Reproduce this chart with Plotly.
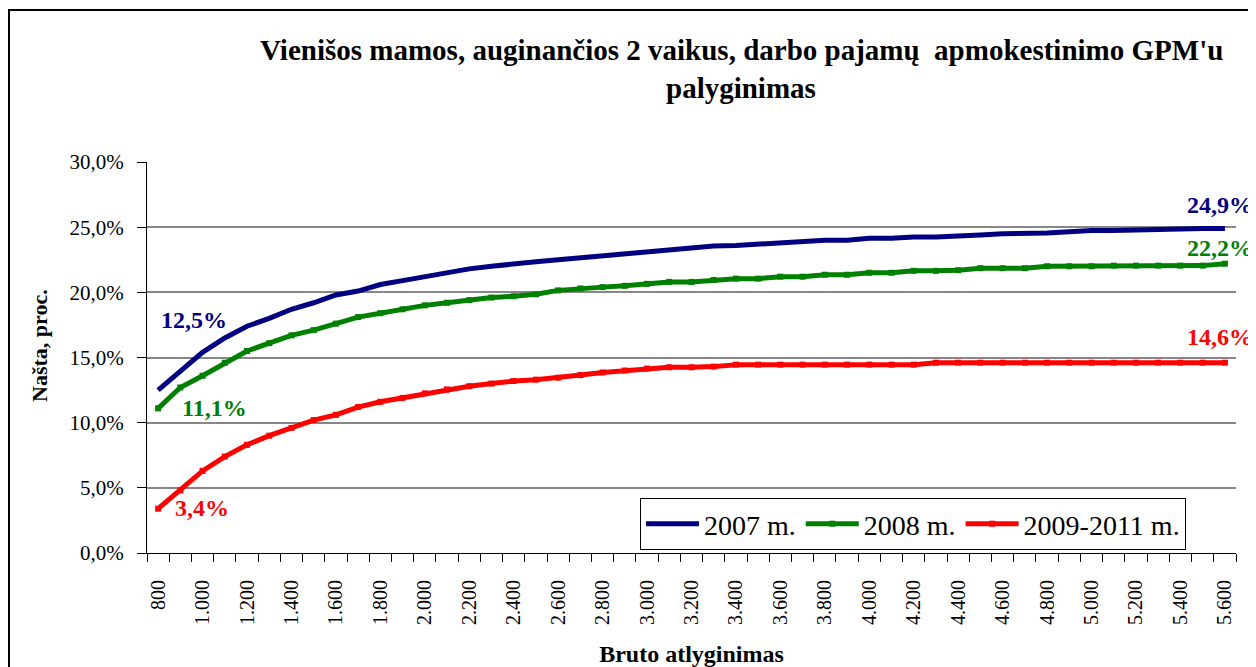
import plotly.graph_objects as go

# ---- data ----
salary = list(range(800, 5601, 100))
tax_2007 = [12.5, 14.0, 15.4, 16.5, 17.4, 18.0, 18.7, 19.2, 19.8, 20.1,
            20.6, 20.9, 21.2, 21.5, 21.8, 22.0, 22.2, 22.35, 22.5, 22.65,
            22.8, 23.0, 23.15, 23.3, 23.45, 23.55, 23.6, 23.7, 23.85, 23.9,
            24.0, 24.0, 24.15, 24.15, 24.25, 24.25, 24.3, 24.4, 24.5, 24.5,
            24.55, 24.65, 24.75, 24.75, 24.8, 24.8, 24.85, 24.9, 24.9]
tax_2008 = [11.1, 12.7, 13.6, 14.6, 15.5, 16.1, 16.7, 17.1, 17.6, 18.1,
            18.4, 18.7, 19.0, 19.2, 19.4, 19.6, 19.7, 19.85, 20.15, 20.3,
            20.4, 20.5, 20.65, 20.8, 20.8, 20.95, 21.05, 21.05, 21.2, 21.2,
            21.35, 21.35, 21.5, 21.5, 21.65, 21.65, 21.7, 21.85, 21.85, 21.85,
            22.0, 22.0, 22.0, 22.05, 22.05, 22.05, 22.05, 22.05, 22.2]
tax_2009 = [3.4, 4.8, 6.3, 7.4, 8.3, 9.0, 9.6, 10.2, 10.6, 11.2,
            11.6, 11.9, 12.25, 12.55, 12.8, 13.0, 13.2, 13.3, 13.45, 13.65,
            13.85, 14.0, 14.15, 14.25, 14.25, 14.3, 14.45, 14.45, 14.45, 14.45,
            14.45, 14.45, 14.45, 14.45, 14.45, 14.6, 14.6, 14.6, 14.6, 14.6,
            14.6, 14.6, 14.6, 14.6, 14.6, 14.6, 14.6, 14.6, 14.6]
series_names = ["2007 m.", "2008 m.", "2009-2011 m."]
x_tick_vals = list(range(800, 5601, 200))
x_tick_text = [f"{v:,}".replace(",", ".") for v in x_tick_vals]
y_tick_vals = [0, 5, 10, 15, 20, 25, 30]
y_tick_text = [f"{v:.1f}%".replace(".", ",") for v in y_tick_vals]
title_lines = ["Vienišos mamos, auginančios 2 vaikus, darbo pajamų  apmokestinimo GPM'u",
               "palyginimas"]
x_title = "Bruto atlyginimas"
y_title = "Našta, proc."

NAVY = "#000080"
GREEN = "#008000"
RED = "#FF0000"
FONT = "Liberation Serif"

# plot area in page pixels (page has an 8px body margin)
PL, PR, PT, PB = 147, 1236, 162, 553
PW, PH = PR - PL, PB - PT


def px_x(p):
    return (p - PL) / PW


def px_y(p):
    return (PB - p) / PH


fig = go.Figure()
fig.add_trace(go.Scatter(x=salary, y=tax_2007, name=series_names[0], mode="lines",
                         line=dict(color=NAVY, width=5)))
fig.add_trace(go.Scatter(x=salary, y=tax_2008, name=series_names[1], mode="lines+markers",
                         line=dict(color=GREEN, width=5),
                         marker=dict(symbol="square", size=6, color=GREEN)))
fig.add_trace(go.Scatter(x=salary, y=tax_2009, name=series_names[2], mode="lines+markers",
                         line=dict(color=RED, width=5),
                         marker=dict(symbol="square", size=6, color=RED)))

ann_font = dict(family=FONT, size=24)
annotations = [
    dict(x=px_x(159), y=px_y(320), text="<b>12,5%</b>", xanchor="left", font=dict(color=NAVY, **ann_font)),
    dict(x=px_x(180), y=px_y(408), text="<b>11,1%</b>", xanchor="left", font=dict(color=GREEN, **ann_font)),
    dict(x=px_x(173), y=px_y(508), text="<b>3,4%</b>", xanchor="left", font=dict(color=RED, **ann_font)),
    dict(x=px_x(1255), y=px_y(205), text="<b>24,9%</b>", xanchor="right", font=dict(color=NAVY, **ann_font)),
    dict(x=px_x(1255), y=px_y(248), text="<b>22,2%</b>", xanchor="right", font=dict(color=GREEN, **ann_font)),
    dict(x=px_x(1255), y=px_y(337), text="<b>14,6%</b>", xanchor="right", font=dict(color=RED, **ann_font)),
    dict(x=px_x(741), y=px_y(50), text="<b>" + title_lines[0] + "</b>", xanchor="center",
         font=dict(family=FONT, size=29, color="black")),
    dict(x=px_x(741), y=px_y(88), text="<b>" + title_lines[1] + "</b>", xanchor="center",
         font=dict(family=FONT, size=29, color="black")),
    dict(x=px_x(39), y=px_y(346), text="<b>" + y_title + "</b>", xanchor="center", textangle=-90,
         font=dict(family=FONT, size=22, color="black")),
]
for a in annotations:
    a["xref"] = "paper"
    a["yref"] = "paper"
    a["showarrow"] = False
    a["yanchor"] = "middle"

fig.update_layout(
    width=1248, height=659,
    margin=dict(l=139, r=20, t=154, b=114),
    paper_bgcolor="white", plot_bgcolor="white",
    font=dict(family=FONT, color="black"),
    showlegend=True,
    legend=dict(orientation="h", x=px_x(640), y=px_y(498), xanchor="left", yanchor="top",
                bordercolor="black", borderwidth=1, bgcolor="white",
                font=dict(family=FONT, size=28), itemwidth=53,
                tracegroupgap=0),
    annotations=annotations,
    shapes=[dict(type="rect", xref="paper", yref="paper",
                 x0=px_x(9), x1=px_x(1252),
                 y0=px_y(700), y1=px_y(10),
                 line=dict(color="black", width=2), layer="below")],
)

fig.update_xaxes(
    range=[750, 5650], tickmode="array", tickvals=x_tick_vals, ticktext=x_tick_text,
    tickangle=-90, ticks="", tickfont=dict(family=FONT, size=20),
    showline=True, linecolor="black", linewidth=1, showgrid=False, zeroline=False,
    minor=dict(tick0=750, dtick=100, ticks="outside", ticklen=8, tickcolor="black", showgrid=False),
    ticklabelstandoff=18, automargin=False,
    title=dict(text="<b>" + x_title + "</b>", font=dict(family=FONT, size=24), standoff=21),
)
fig.update_yaxes(
    range=[0, 30], tickmode="array", tickvals=y_tick_vals, ticktext=y_tick_text,
    ticks="outside", ticklen=9, tickcolor="black",
    tickfont=dict(family=FONT, size=21), ticklabelstandoff=9,
    showline=True, linecolor="black", linewidth=1, automargin=False,
    showgrid=True, gridcolor="#878787", gridwidth=1.5, zeroline=False,
)

fig.write_html("out.html")
